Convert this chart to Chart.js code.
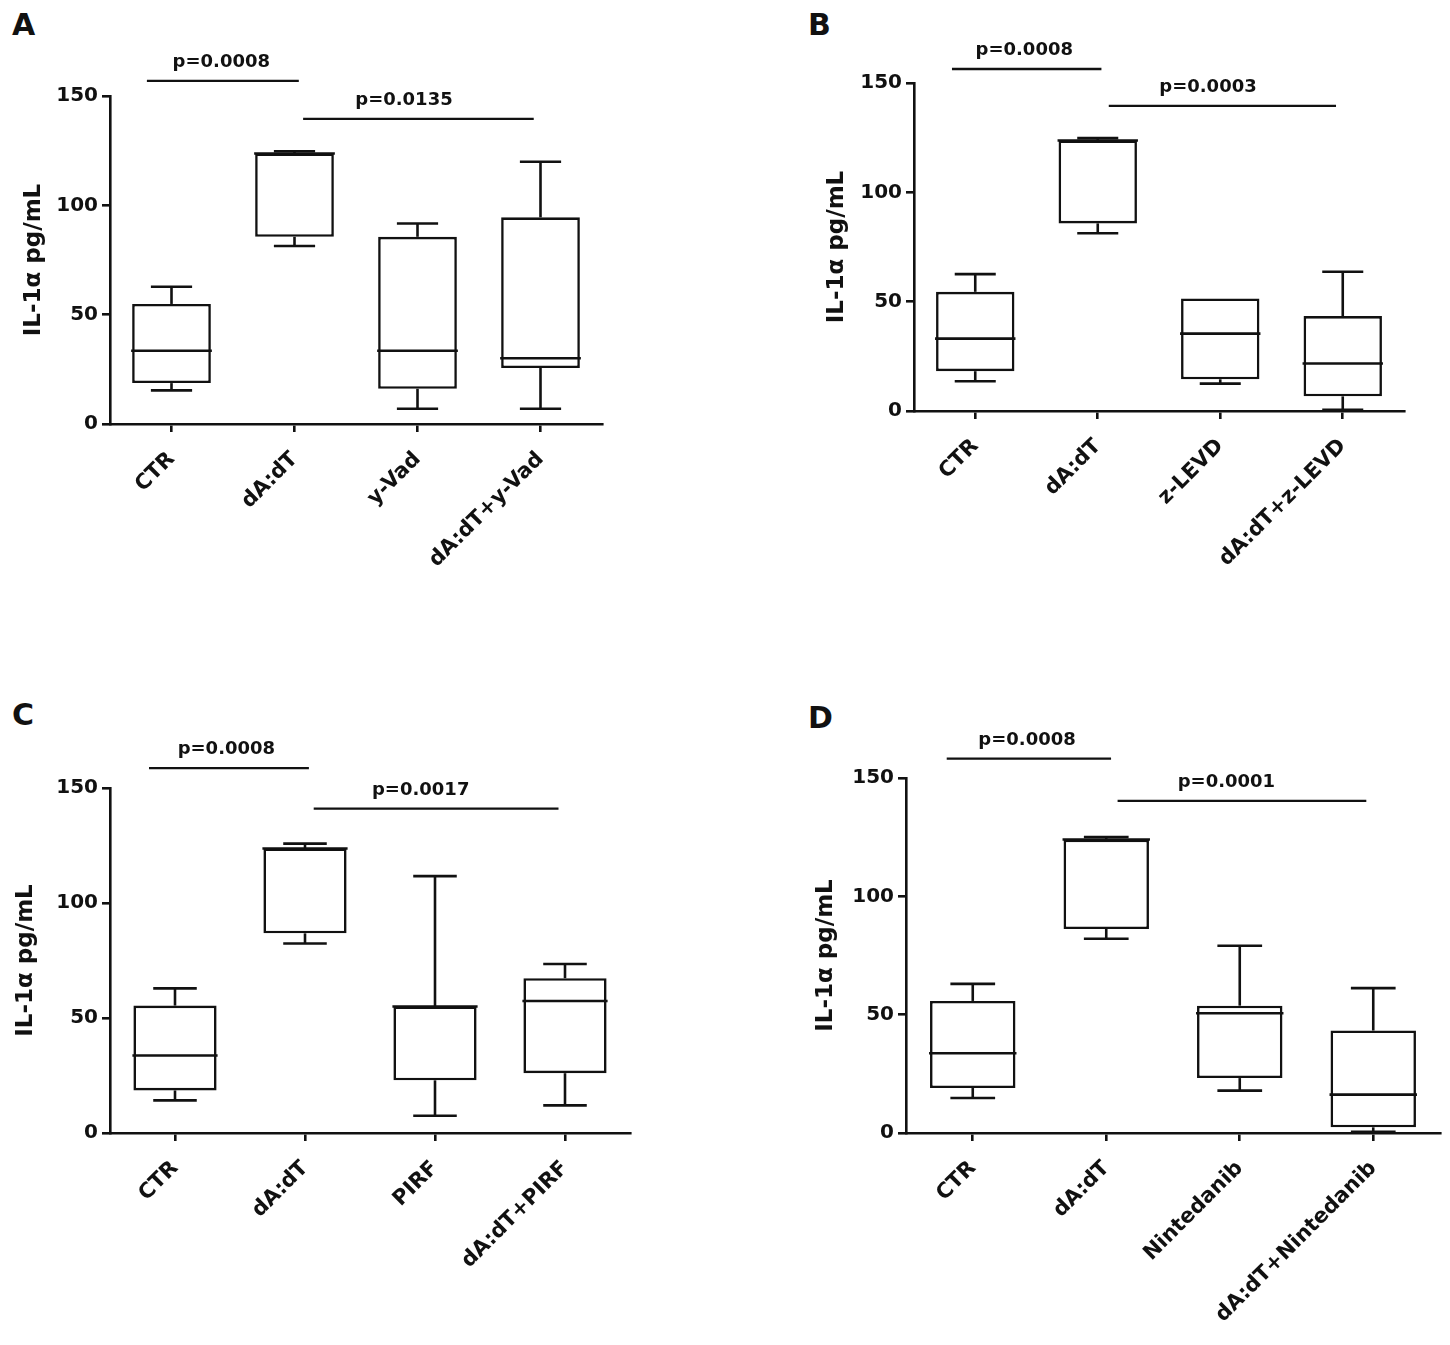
<!DOCTYPE html>
<html><head><meta charset="utf-8">
<script src="https://cdn.jsdelivr.net/npm/chart.js@4.4.1/dist/chart.umd.min.js"></script>
<style>
html,body{margin:0;padding:0;background:#fff;width:1450px;height:1345px;overflow:hidden;position:relative;font-family:'DejaVu Sans',sans-serif;}
canvas{position:absolute;}
.lbl{position:absolute;font-weight:bold;font-size:30px;line-height:30px;color:#111;font-family:'DejaVu Sans',sans-serif;}
</style></head><body>
<div class="lbl" style="left:12px;top:10px">A</div>
<div class="lbl" style="left:808px;top:10px">B</div>
<div class="lbl" style="left:12px;top:700px">C</div>
<div class="lbl" style="left:808px;top:703px">D</div>
<canvas id="cA"></canvas>
<canvas id="cB"></canvas>
<canvas id="cC"></canvas>
<canvas id="cD"></canvas>
<script>
// ---------- data ----------
const yTicks = [0, 50, 100, 150];
const yTitle = 'IL-1α pg/mL';

const catsA = ['CTR', 'dA:dT', 'y-Vad', 'dA:dT+y-Vad'];
const minA = [15.4, 81.4, 7.0, 7.0];
const q1A  = [18.7, 85.6, 16.1, 25.6];
const medA = [33.5, 123.7, 33.5, 30.1];
const q3A  = [54.9, 123.7, 85.6, 94.5];
const maxA = [62.8, 124.7, 91.7, 119.9];
const pA = [
  {from: -0.2, to: 1.035, y: 156.9, textAt: 0.405, text: 'p=0.0008'},
  {from: 1.07, to: 2.945, y: 139.5, textAt: 1.89, text: 'p=0.0135'}
];

const catsB = ['CTR', 'dA:dT', 'z-LEVD', 'dA:dT+z-LEVD'];
const minB = [13.6, 81.3, 12.5, 0.5];
const q1B  = [18.2, 85.8, 14.5, 6.7];
const medB = [33.1, 123.7, 35.4, 21.7];
const q3B  = [54.5, 123.7, 51.5, 43.4];
const maxB = [62.6, 124.8, 51.5, 63.7];
const pB = [
  {from: -0.19, to: 1.03, y: 156.4, textAt: 0.40, text: 'p=0.0008'},
  {from: 1.09, to: 2.945, y: 139.5, textAt: 1.90, text: 'p=0.0003'}
];

const catsC = ['CTR', 'dA:dT', 'PIRF', 'dA:dT+PIRF'];
const minC = [14.2, 82.4, 7.5, 12.0];
const q1C  = [18.5, 86.8, 22.9, 26.0];
const medC = [33.7, 123.7, 55.0, 57.4];
const q3C  = [55.4, 123.7, 55.0, 67.3];
const maxC = [62.9, 125.8, 111.7, 73.5];
const pC = [
  {from: -0.2, to: 1.03, y: 158.6, textAt: 0.395, text: 'p=0.0008'},
  {from: 1.067, to: 2.95, y: 141.0, textAt: 1.89, text: 'p=0.0017'}
];

const catsD = ['CTR', 'dA:dT', 'Nintedanib', 'dA:dT+Nintedanib'];
const minD = [14.8, 82.1, 17.9, 0.5];
const q1D  = [19.0, 86.2, 23.2, 2.4];
const medD = [33.7, 124.0, 50.6, 16.2];
const q3D  = [55.8, 124.0, 53.8, 43.3];
const maxD = [63.0, 125.1, 79.1, 61.2];
const pD = [
  {from: -0.195, to: 1.036, y: 158.2, textAt: 0.407, text: 'p=0.0008'},
  {from: 1.085, to: 2.948, y: 140.3, textAt: 1.90, text: 'p=0.0001'}
];

// ---------- drawing ----------
const INK = '#111';
const FONT = "'DejaVu Sans', sans-serif";

const boxPlugin = {
  id: 'boxw',
  afterDatasetsDraw(chart) {
    const o = chart.options.plugins.boxw;
    const ctx = chart.ctx, xs = chart.scales.x, ys = chart.scales.y;
    const meta = chart.getDatasetMeta(0);
    const catW = xs.width / chart.data.labels.length;
    const cap = catW * 0.335;
    const line = (x1, y1, x2, y2) => { ctx.beginPath(); ctx.moveTo(x1, y1); ctx.lineTo(x2, y2); ctx.stroke(); };
    ctx.save();
    ctx.strokeStyle = INK; ctx.lineWidth = 2.6;
    o.q1.forEach((_, i) => {
      const x = xs.getPixelForValue(i);
      const bw = meta.data[i].width;
      const yMin = ys.getPixelForValue(o.min[i]);
      const yQ1 = ys.getPixelForValue(o.q1[i]);
      const yQ3 = ys.getPixelForValue(o.q3[i]);
      const yMax = ys.getPixelForValue(o.max[i]);
      const yMed = ys.getPixelForValue(o.med[i]);
      if (yMax < yQ3 - 0.5) { line(x, yQ3, x, yMax); line(x - cap / 2, yMax, x + cap / 2, yMax); }
      if (yMin > yQ1 + 0.5) { line(x, yQ1, x, yMin); line(x - cap / 2, yMin, x + cap / 2, yMin); }
      line(x - bw / 2 - 1, yMed, x + bw / 2 + 1, yMed);
    });
    ctx.restore();
  },
  afterDraw(chart) {
    const list = chart.options.plugins.boxw.brackets;
    const ctx = chart.ctx, xs = chart.scales.x, ys = chart.scales.y;
    ctx.save();
    ctx.strokeStyle = INK; ctx.fillStyle = INK; ctx.lineWidth = 2.3;
    ctx.font = "bold 18px " + FONT;
    ctx.textAlign = 'center'; ctx.textBaseline = 'alphabetic';
    list.forEach(b => {
      const x1 = xs.getPixelForValue(b.from), x2 = xs.getPixelForValue(b.to);
      const y = ys.getPixelForValue(b.y);
      ctx.beginPath(); ctx.moveTo(x1, y); ctx.lineTo(x2, y); ctx.stroke();
      ctx.fillText(b.text, xs.getPixelForValue(b.textAt), y - 14);
    });
    ctx.restore();
  }
};

function panel(id, geo, cats, mn, q1, md, q3, mx, brackets) {
  const cv = document.getElementById(id);
  cv.style.left = geo.left + 'px'; cv.style.top = geo.top + 'px';
  cv.width = geo.w; cv.height = geo.h;
  new Chart(cv, {
    type: 'bar',
    data: {
      labels: cats,
      datasets: [{
        data: q1.map((v, i) => [v, q3[i]]),
        backgroundColor: '#fff', borderColor: INK, borderWidth: 2.6, borderSkipped: false,
        barPercentage: 0.64, categoryPercentage: 1.0
      }]
    },
    options: {
      responsive: false, animation: false, devicePixelRatio: 1,
      layout: { padding: { top: geo.padTop, right: geo.padRight, left: 0, bottom: 0 } },
      plugins: {
        legend: { display: false }, tooltip: { enabled: false },
        boxw: { min: mn, q1: q1, med: md, q3: q3, max: mx, brackets: brackets }
      },
      scales: {
        x: {
          type: 'category', offset: true,
          grid: { offset: false, drawOnChartArea: false, drawTicks: true, tickLength: 8, color: INK, lineWidth: 2.6 },
          border: { color: INK, width: 2.6 },
          ticks: { color: INK, font: { family: FONT, size: 21, weight: 'bold' }, minRotation: 45, maxRotation: 45, autoSkip: false, padding: 15 },
          afterFit: s => { s.height = geo.xH; }
        },
        y: {
          min: 0, max: 150,
          afterBuildTicks: s => { s.ticks = yTicks.map(v => ({ value: v })); },
          grid: { drawOnChartArea: false, drawTicks: true, tickLength: 8, color: INK, lineWidth: 2.6 },
          border: { color: INK, width: 2.6 },
          ticks: { color: INK, font: { family: FONT, size: 20, weight: 'bold' }, padding: 4 },
          title: { display: true, text: yTitle, color: INK, font: { family: FONT, size: 23, weight: 'bold' }, padding: { top: geo.titlePad, bottom: 0 } },
          afterFit: s => { s.width = geo.yW; }
        }
      }
    },
    plugins: [boxPlugin]
  });
}

panel('cA', {left: 0, top: 0, w: 640, h: 640, padTop: 96, padRight: 38, xH: 216, yW: 110, titlePad: 20}, catsA, minA, q1A, medA, q3A, maxA, pA);
panel('cB', {left: 800, top: 0, w: 640, h: 640, padTop: 83, padRight: 36, xH: 229, yW: 114, titlePad: 23}, catsB, minB, q1B, medB, q3B, maxB, pB);
panel('cC', {left: 0, top: 660, w: 660, h: 685, padTop: 128, padRight: 30, xH: 212, yW: 110, titlePad: 12}, catsC, minC, q1C, medC, q3C, maxC, pC);
panel('cD', {left: 800, top: 660, w: 650, h: 685, padTop: 118, padRight: 10, xH: 212, yW: 106, titlePad: 12}, catsD, minD, q1D, medD, q3D, maxD, pD);
</script>
</body></html>
